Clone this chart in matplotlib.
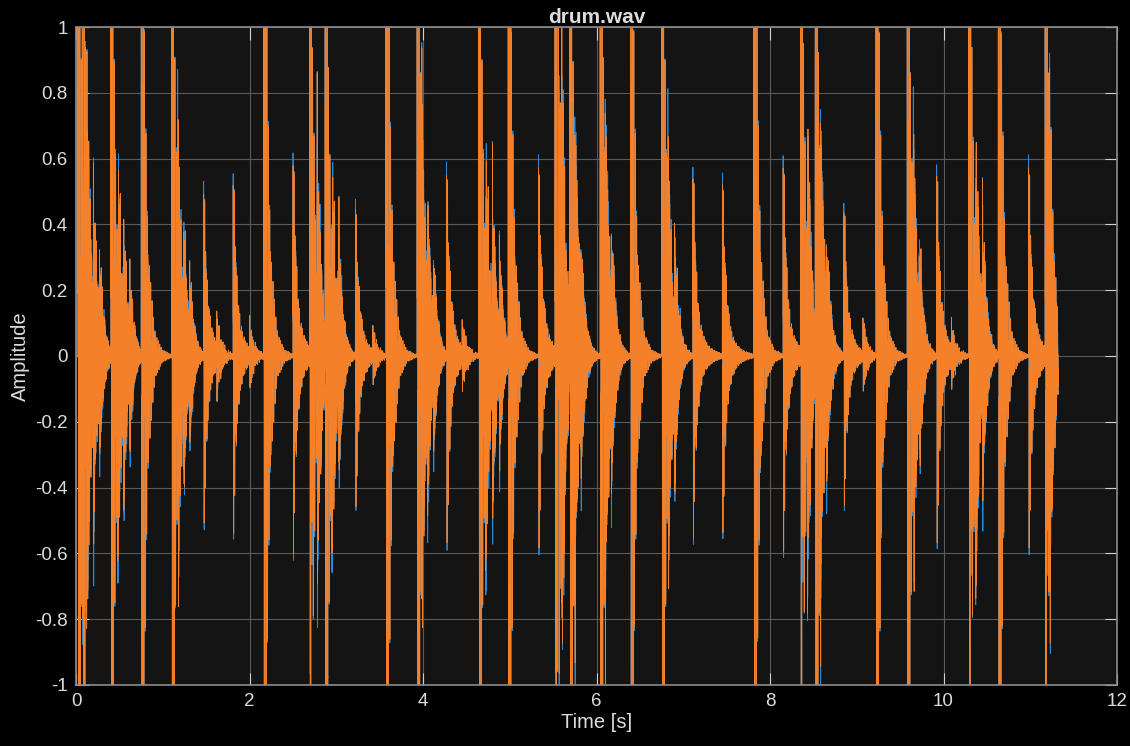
import numpy as np
import matplotlib.pyplot as plt
from matplotlib.ticker import FuncFormatter

plt.rcParams['font.family'] = ['Liberation Sans', 'DejaVu Sans']

# onsets [s] and peak levels (levels > 1 are clipped hits)
big_times = [0.02, 0.07, 0.40, 0.75, 1.10, 2.16, 2.69, 2.72, 2.87, 3.57, 3.93,
             4.64, 4.98, 5.52, 5.56, 5.69, 6.04, 6.39, 6.75, 7.81, 8.35, 8.38,
             8.52, 9.22, 9.58, 10.29, 10.32, 10.63, 11.17, 11.20]
big_levels = [2.0, 1.6, 2.0, 2.2, 2.0, 2.3, 1.8, 1.4, 2.0, 2.3, 1.9,
              2.0, 2.2, 1.8, 1.4, 2.0, 2.0, 2.2, 2.0, 2.3, 1.9, 1.4,
              2.0, 2.2, 1.9, 1.9, 1.4, 2.2, 1.9, 1.3]

mid_times = [1.47, 1.81, 2.50, 3.22, 4.27, 5.33, 7.11, 7.45, 8.15, 8.85, 9.92, 10.98]
mid_levels = [0.62, 0.66, 0.73, 0.56, 0.69, 0.72, 0.68, 0.66, 0.72, 0.56, 0.69, 0.72]

tap_times = [1.62, 2.00, 3.42, 4.45, 9.07, 10.09]
tap_levels = [0.12, 0.10, 0.09, 0.10, 0.12, 0.09]

hat_times = [0.12, 0.20, 0.27, 0.48, 0.55, 0.62, 1.17, 1.24, 1.31, 2.78, 2.95, 3.03,
             3.98, 4.05, 4.12, 4.72, 4.80, 4.88, 5.60, 5.75, 5.82, 6.10, 6.17,
             6.82, 6.90, 8.43, 8.58, 8.65, 9.65, 9.72, 10.37, 10.45, 11.22]
hat_levels = [0.45, 0.40, 0.28, 0.42, 0.36, 0.25, 0.45, 0.36, 0.25, 0.48, 0.40, 0.28,
              0.50, 0.40, 0.28, 0.45, 0.40, 0.25, 0.50, 0.42, 0.30, 0.45, 0.33,
              0.40, 0.28, 0.48, 0.42, 0.30, 0.42, 0.30, 0.45, 0.33, 0.40]

end_time = 11.32
sr = 8000


def synth(t, phase, hat_gain):
    y = np.zeros_like(t)
    for t0, lv in zip(big_times, big_levels):
        dt = t - t0
        m = dt >= 0
        env = lv * np.exp(-dt[m] / 0.045) + 0.1 * np.exp(-dt[m] / 0.12)
        car = 0.55 * np.sin(2 * np.pi * 57 * dt[m] + phase) + 0.45 * np.sin(2 * np.pi * 183 * dt[m] + 2 * phase)
        y[m] += env * car
    for t0, lv in zip(mid_times, mid_levels):
        dt = t - t0
        m = dt >= 0
        env = lv * (0.85 * np.exp(-dt[m] / 0.035) + 0.2 * np.exp(-dt[m] / 0.12))
        car = 0.6 * np.sin(2 * np.pi * 95 * dt[m] + phase) + 0.4 * np.sin(2 * np.pi * 251 * dt[m] + phase)
        y[m] += env * car
    for t0, lv in zip(tap_times, tap_levels):
        dt = t - t0
        m = dt >= 0
        env = lv * np.exp(-dt[m] / 0.05)
        y[m] += env * np.sin(2 * np.pi * 140 * dt[m] + phase)
    for t0, lv in zip(hat_times, hat_levels):
        dt = t - t0
        m = dt >= 0
        env = hat_gain * lv * np.exp(-dt[m] / 0.045)
        car = (np.sin(2 * np.pi * 1237 * dt[m] + phase) + np.sin(2 * np.pi * 2311 * dt[m] + 3 * phase)
               + np.sin(2 * np.pi * 3119 * dt[m]) + np.sin(2 * np.pi * 1789 * dt[m] + phase)) / 2.6
        y[m] += env * car
    return np.clip(y, -1, 1)


t = np.arange(0, end_time, 1 / sr)
left = synth(t, 0.2, 1.06)
right = synth(t, 0.0, 1.0)

fig = plt.figure(figsize=(11.3, 7.46), dpi=100, facecolor='black')
ax = fig.add_axes([0.0673, 0.0818, 0.9212, 0.882])
ax.set_facecolor('#141414')

ax.plot(t, left, color='#2a8ad8', lw=0.6)
ax.plot(t, right, color='#f5802a', lw=0.6)

ax.set_xlim(0, 12)
ax.set_ylim(-1, 1)
ax.set_xticks(np.arange(0, 13, 2))
ax.set_yticks(np.round(np.arange(-1, 1.01, 0.2), 1))
ax.yaxis.set_major_formatter(FuncFormatter(lambda v, p: f"{v + 0:g}"))
ax.grid(True, color='#5a5a5a', lw=0.8)
ax.set_axisbelow(True)
ax.tick_params(direction='in', length=9, color='#d0d0d0', labelcolor='#dcdcdc',
               labelsize=13.5, top=True, right=True, pad=6)
for s in ax.spines.values():
    s.set_color('#8c8c8c')
    s.set_linewidth(1.2)

ax.set_title('drum.wav', color='#dcdcdc', fontsize=15, fontweight='bold', pad=3)
ax.set_xlabel('Time [s]', color='#dcdcdc', fontsize=14.5, labelpad=2)
ax.set_ylabel('Amplitude', color='#dcdcdc', fontsize=14.5, labelpad=4)

fig.savefig('out.png', dpi=100, facecolor='black')
